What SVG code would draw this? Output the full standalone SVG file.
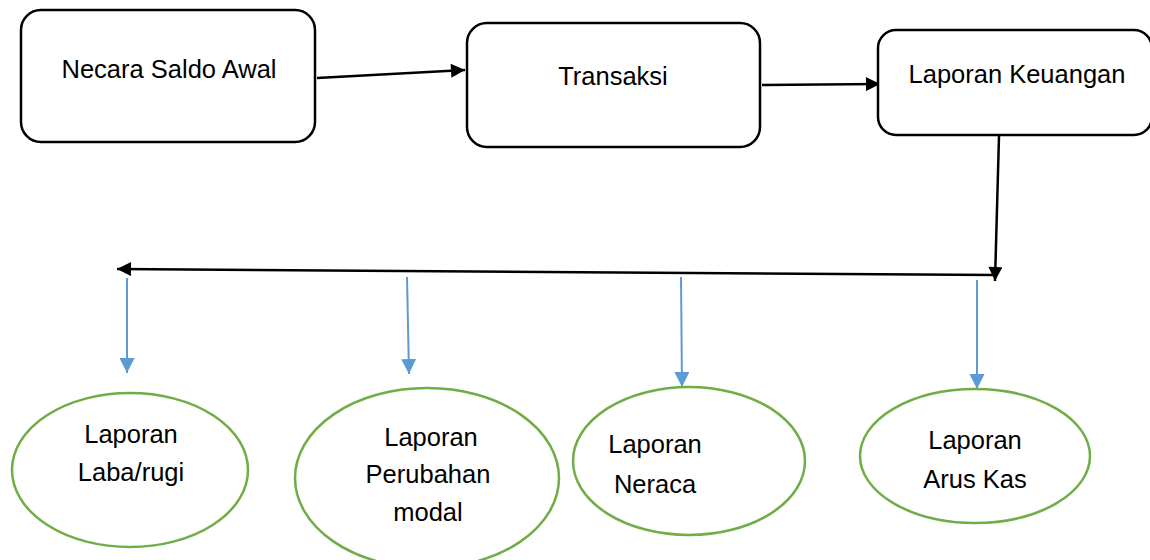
<svg xmlns="http://www.w3.org/2000/svg" width="1150" height="560" viewBox="0 0 1150 560">
<defs>
<marker id="ab" viewBox="0 0 10 10" refX="10" refY="5" markerWidth="16" markerHeight="14" markerUnits="userSpaceOnUse" orient="auto"><path d="M0,0 L10,5 L0,10 Z" fill="#000"/></marker>
<marker id="ablue" viewBox="0 0 10 10" refX="10" refY="5" markerWidth="15" markerHeight="15" markerUnits="userSpaceOnUse" orient="auto"><path d="M0,0 L10,5 L0,10 Z" fill="#5B9BD5"/></marker>
</defs>
<style>
.box{fill:#fff;stroke:#000;stroke-width:2.5}
.ell{fill:#fff;stroke:#70AD47;stroke-width:2.5}
.t{font-family:"Liberation Sans",Arial,sans-serif;font-size:25.5px;fill:#000;text-anchor:middle}
.bl{stroke:#000;stroke-width:2.5;fill:none}
.blu{stroke:#5B9BD5;stroke-width:2;fill:none}
</style>
<rect width="1150" height="560" fill="#fff"/>
<g id="connectors">
<line class="bl" x1="317" y1="78" x2="465" y2="70" marker-end="url(#ab)"/>
<line class="bl" x1="762" y1="85" x2="880" y2="84" marker-end="url(#ab)"/>
<line class="bl" x1="999" y1="136" x2="995" y2="281" marker-end="url(#ab)"/>
<line class="bl" x1="995" y1="275" x2="117" y2="269" marker-end="url(#ab)"/>
<line class="blu" x1="127" y1="278" x2="127" y2="373" marker-end="url(#ablue)"/>
<line class="blu" x1="407" y1="277" x2="409" y2="374" marker-end="url(#ablue)"/>
<line class="blu" x1="681" y1="277" x2="682" y2="387" marker-end="url(#ablue)"/>
<line class="blu" x1="977" y1="280" x2="977" y2="389" marker-end="url(#ablue)"/>
</g>
<g id="n1"><rect class="box" x="21" y="10" width="294" height="132" rx="20"/><text class="t" x="169" y="78">Necara Saldo Awal</text></g>
<g id="n2"><rect class="box" x="467" y="23" width="293" height="124" rx="20"/><text class="t" x="613" y="85">Transaksi</text></g>
<g id="n3"><rect class="box" x="878" y="30" width="274" height="105" rx="18"/><text class="t" x="1017" y="83">Laporan Keuangan</text></g>
<g id="e1"><ellipse class="ell" cx="130" cy="470" rx="118" ry="77"/><text class="t" x="131" y="443">Laporan</text><text class="t" x="131" y="481">Laba/rugi</text></g>
<g id="e2"><ellipse class="ell" cx="427" cy="478" rx="132" ry="90"/><text class="t" x="431" y="446">Laporan</text><text class="t" x="428" y="483">Perubahan</text><text class="t" x="428" y="521">modal</text></g>
<g id="e3"><ellipse class="ell" cx="689" cy="461" rx="116" ry="74"/><text class="t" x="655" y="453">Laporan</text><text class="t" x="655" y="493">Neraca</text></g>
<g id="e4"><ellipse class="ell" cx="975" cy="456" rx="115" ry="67"/><text class="t" x="975" y="449">Laporan</text><text class="t" x="975" y="488">Arus Kas</text></g>
</svg>
